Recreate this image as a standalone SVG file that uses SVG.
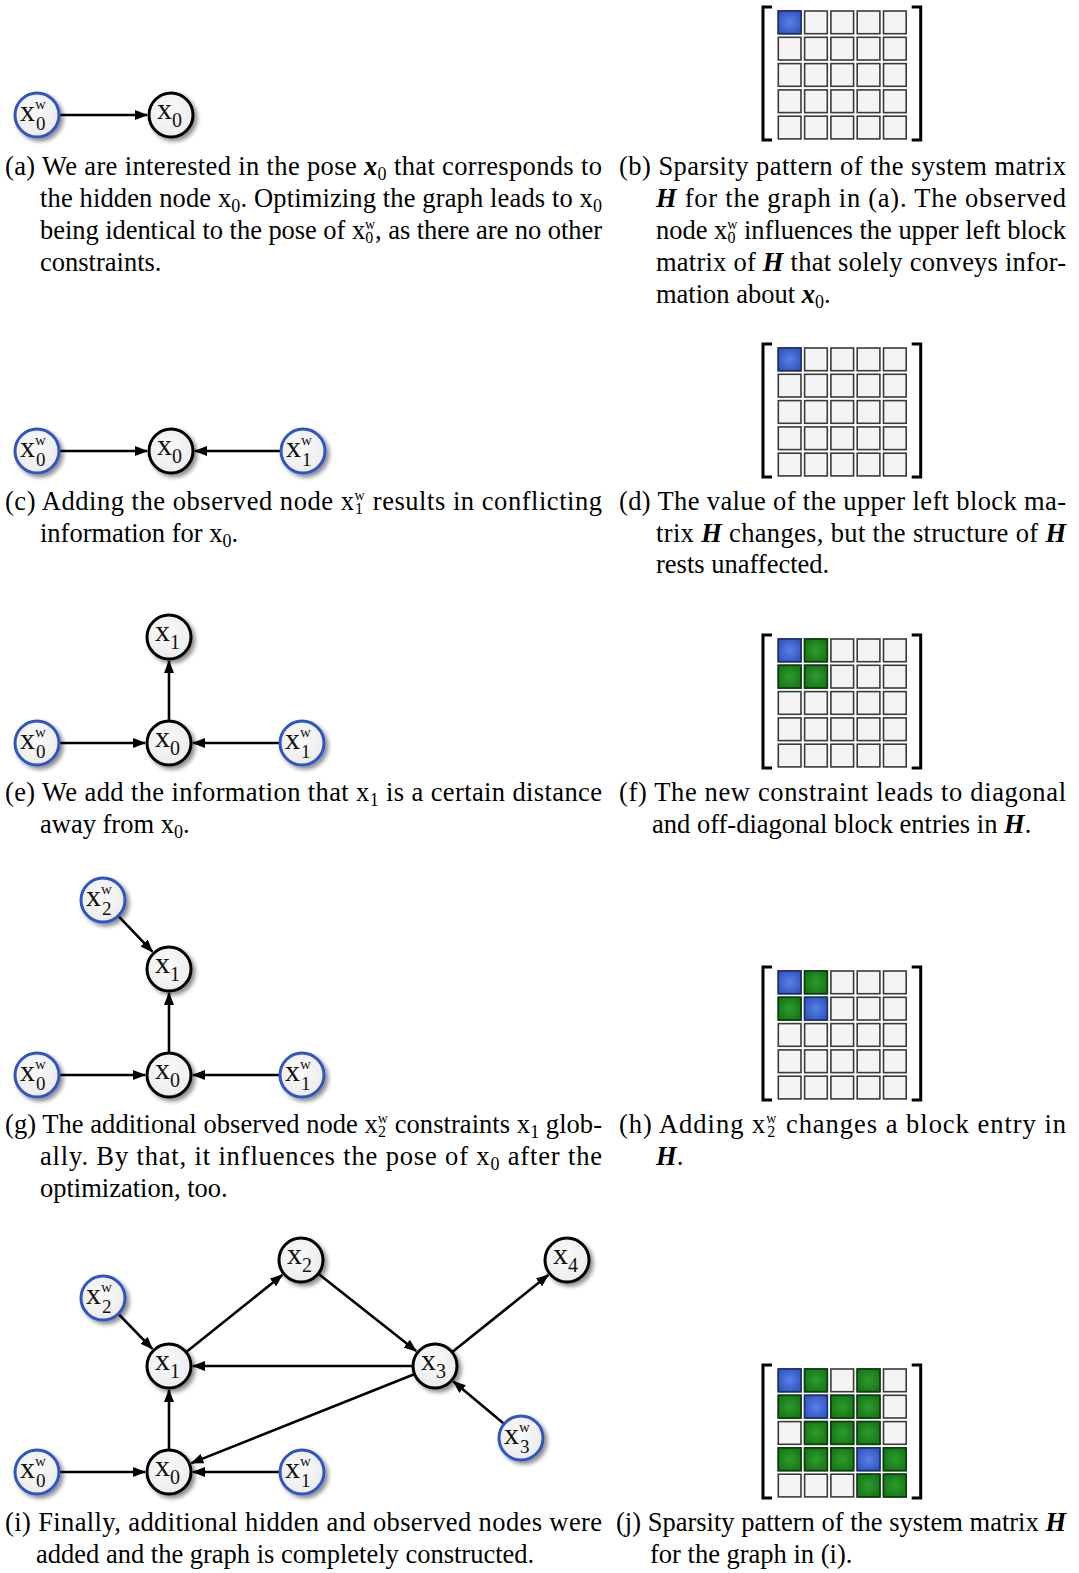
<svg xmlns="http://www.w3.org/2000/svg" xmlns:xlink="http://www.w3.org/1999/xlink" width="1079" height="1573" viewBox="0 0 1079 1573">
<style>
.cap{font-family:"Liberation Serif","Times New Roman",serif;font-size:26.5px;fill:#000}
.mb{font-weight:bold;font-style:italic}
.lbl{font-family:"Liberation Serif","Times New Roman",serif;fill:#111;font-size:30px}
.hid{fill:url(#nodeFill);stroke:#000;stroke-width:3}
.obs{fill:url(#nodeFill);stroke:#2d55c5;stroke-width:3}
.edge{stroke:#000;stroke-width:2.6;fill:none;marker-end:url(#arr)}
.cw{fill:#f4f4f4;stroke:#3a3a3a;stroke-width:1.6}
.cb{fill:url(#blueG);stroke:#1e2f70;stroke-width:1.6}
.cg{fill:url(#greenG);stroke:#0c3d0c;stroke-width:1.6}
.br{fill:none;stroke:#000;stroke-width:3}
</style>
<defs>
<radialGradient id="nodeFill" cx="0.45" cy="0.4" r="0.6"><stop offset="0" stop-color="#fafafa"/><stop offset="1" stop-color="#ececec"/></radialGradient>
<radialGradient id="blueG" cx="0.5" cy="0.5" r="0.6"><stop offset="0" stop-color="#5a80e2"/><stop offset="1" stop-color="#2f55c2"/></radialGradient>
<radialGradient id="greenG" cx="0.5" cy="0.5" r="0.6"><stop offset="0" stop-color="#2f9a2f"/><stop offset="1" stop-color="#137813"/></radialGradient>
<filter id="sh" x="-30%" y="-30%" width="170%" height="170%">
<feGaussianBlur in="SourceAlpha" stdDeviation="2"/><feOffset dx="3" dy="3" result="b"/>
<feComponentTransfer><feFuncA type="linear" slope="0.45"/></feComponentTransfer>
<feMerge><feMergeNode/><feMergeNode in="SourceGraphic"/></feMerge>
</filter>
<marker id="arr" markerUnits="userSpaceOnUse" markerWidth="13" markerHeight="10" refX="12" refY="5" orient="auto"><path d="M0,0 L13,5 L0,10 Z" fill="#000"/></marker>
<g id="hx"><circle r="22" class="hid" filter="url(#sh)"/></g>
<g id="ox"><circle r="22" class="obs" filter="url(#sh)"/></g>
<g id="mat">
<path class="br" d="M-6.3,-4 H-15.3 V129 H-6.3 M133.4,-4 H142.4 V129 H133.4"/>
<rect class="cw" x="0" y="0" width="22.7" height="22.7"/><rect class="cw" x="26.3" y="0" width="22.7" height="22.7"/><rect class="cw" x="52.6" y="0" width="22.7" height="22.7"/><rect class="cw" x="78.9" y="0" width="22.7" height="22.7"/><rect class="cw" x="105.2" y="0" width="22.7" height="22.7"/>
<rect class="cw" x="0" y="26.3" width="22.7" height="22.7"/><rect class="cw" x="26.3" y="26.3" width="22.7" height="22.7"/><rect class="cw" x="52.6" y="26.3" width="22.7" height="22.7"/><rect class="cw" x="78.9" y="26.3" width="22.7" height="22.7"/><rect class="cw" x="105.2" y="26.3" width="22.7" height="22.7"/>
<rect class="cw" x="0" y="52.6" width="22.7" height="22.7"/><rect class="cw" x="26.3" y="52.6" width="22.7" height="22.7"/><rect class="cw" x="52.6" y="52.6" width="22.7" height="22.7"/><rect class="cw" x="78.9" y="52.6" width="22.7" height="22.7"/><rect class="cw" x="105.2" y="52.6" width="22.7" height="22.7"/>
<rect class="cw" x="0" y="78.9" width="22.7" height="22.7"/><rect class="cw" x="26.3" y="78.9" width="22.7" height="22.7"/><rect class="cw" x="52.6" y="78.9" width="22.7" height="22.7"/><rect class="cw" x="78.9" y="78.9" width="22.7" height="22.7"/><rect class="cw" x="105.2" y="78.9" width="22.7" height="22.7"/>
<rect class="cw" x="0" y="105.2" width="22.7" height="22.7"/><rect class="cw" x="26.3" y="105.2" width="22.7" height="22.7"/><rect class="cw" x="52.6" y="105.2" width="22.7" height="22.7"/><rect class="cw" x="78.9" y="105.2" width="22.7" height="22.7"/><rect class="cw" x="105.2" y="105.2" width="22.7" height="22.7"/>
</g>
</defs>
<rect width="1079" height="1573" fill="#fff"/>

<g id="connectors">
<line class="edge" x1="60" y1="115" x2="147" y2="115"/>
<line class="edge" x1="60" y1="451" x2="147" y2="451"/>
<line class="edge" x1="280" y1="451" x2="195" y2="451"/>
<line class="edge" x1="169" y1="720" x2="169" y2="661"/>
<line class="edge" x1="60" y1="743" x2="145" y2="743"/>
<line class="edge" x1="279" y1="743" x2="193" y2="743"/>
<line class="edge" x1="118.9" y1="916.6" x2="152.4" y2="951.7"/>
<line class="edge" x1="169" y1="1052" x2="169" y2="993"/>
<line class="edge" x1="60" y1="1075" x2="145" y2="1075"/>
<line class="edge" x1="279" y1="1075" x2="193" y2="1075"/>
<line class="edge" x1="186.9" y1="1351.6" x2="282.3" y2="1275"/>
<line class="edge" x1="319" y1="1274.3" x2="416.2" y2="1351.1"/>
<line class="edge" x1="452.9" y1="1351.6" x2="548.3" y2="1275"/>
<line class="edge" x1="412" y1="1366" x2="193" y2="1366"/>
<line class="edge" x1="413.6" y1="1374.5" x2="191.3" y2="1463.1"/>
<line class="edge" x1="169" y1="1449" x2="169" y2="1390"/>
<line class="edge" x1="119" y1="1314.5" x2="152.3" y2="1348.8"/>
<line class="edge" x1="503.4" y1="1423.2" x2="453.4" y2="1381.4"/>
<line class="edge" x1="60" y1="1472" x2="145" y2="1472"/>
<line class="edge" x1="279" y1="1472" x2="193" y2="1472"/>
</g>

<g id="a_x0w" transform="translate(37,115)"><use href="#ox"/><text class="lbl" x="-17" y="6">x<tspan font-size="15" dy="-12">w</tspan><tspan font-size="19" dx="-9.8" dy="21">0</tspan></text></g>
<g id="a_x0" transform="translate(171,115)"><use href="#hx"/><text class="lbl" x="-14" y="4">x<tspan font-size="20" dy="8">0</tspan></text></g>

<g id="c_x0w" transform="translate(37,451)"><use href="#ox"/><text class="lbl" x="-17" y="6">x<tspan font-size="15" dy="-12">w</tspan><tspan font-size="19" dx="-9.8" dy="21">0</tspan></text></g>
<g id="c_x0" transform="translate(171,451)"><use href="#hx"/><text class="lbl" x="-14" y="4">x<tspan font-size="20" dy="8">0</tspan></text></g>
<g id="c_x1w" transform="translate(303,451)"><use href="#ox"/><text class="lbl" x="-17" y="6">x<tspan font-size="15" dy="-12">w</tspan><tspan font-size="19" dx="-9.8" dy="21">1</tspan></text></g>

<g id="e_x1" transform="translate(169,637)"><use href="#hx"/><text class="lbl" x="-14" y="4">x<tspan font-size="20" dy="8">1</tspan></text></g>
<g id="e_x0w" transform="translate(37,743)"><use href="#ox"/><text class="lbl" x="-17" y="6">x<tspan font-size="15" dy="-12">w</tspan><tspan font-size="19" dx="-9.8" dy="21">0</tspan></text></g>
<g id="e_x0" transform="translate(169,743)"><use href="#hx"/><text class="lbl" x="-14" y="4">x<tspan font-size="20" dy="8">0</tspan></text></g>
<g id="e_x1w" transform="translate(302,743)"><use href="#ox"/><text class="lbl" x="-17" y="6">x<tspan font-size="15" dy="-12">w</tspan><tspan font-size="19" dx="-9.8" dy="21">1</tspan></text></g>

<g id="g_x2w" transform="translate(103,900)"><use href="#ox"/><text class="lbl" x="-17" y="6">x<tspan font-size="15" dy="-12">w</tspan><tspan font-size="19" dx="-9.8" dy="21">2</tspan></text></g>
<g id="g_x1" transform="translate(169,969)"><use href="#hx"/><text class="lbl" x="-14" y="4">x<tspan font-size="20" dy="8">1</tspan></text></g>
<g id="g_x0w" transform="translate(37,1075)"><use href="#ox"/><text class="lbl" x="-17" y="6">x<tspan font-size="15" dy="-12">w</tspan><tspan font-size="19" dx="-9.8" dy="21">0</tspan></text></g>
<g id="g_x0" transform="translate(169,1075)"><use href="#hx"/><text class="lbl" x="-14" y="4">x<tspan font-size="20" dy="8">0</tspan></text></g>
<g id="g_x1w" transform="translate(302,1075)"><use href="#ox"/><text class="lbl" x="-17" y="6">x<tspan font-size="15" dy="-12">w</tspan><tspan font-size="19" dx="-9.8" dy="21">1</tspan></text></g>

<g id="i_x2" transform="translate(301,1260)"><use href="#hx"/><text class="lbl" x="-14" y="4">x<tspan font-size="20" dy="8">2</tspan></text></g>
<g id="i_x4" transform="translate(567,1260)"><use href="#hx"/><text class="lbl" x="-14" y="4">x<tspan font-size="20" dy="8">4</tspan></text></g>
<g id="i_x2w" transform="translate(103,1298)"><use href="#ox"/><text class="lbl" x="-17" y="6">x<tspan font-size="15" dy="-12">w</tspan><tspan font-size="19" dx="-9.8" dy="21">2</tspan></text></g>
<g id="i_x1" transform="translate(169,1366)"><use href="#hx"/><text class="lbl" x="-14" y="4">x<tspan font-size="20" dy="8">1</tspan></text></g>
<g id="i_x3" transform="translate(435,1366)"><use href="#hx"/><text class="lbl" x="-14" y="4">x<tspan font-size="20" dy="8">3</tspan></text></g>
<g id="i_x3w" transform="translate(521,1438)"><use href="#ox"/><text class="lbl" x="-17" y="6">x<tspan font-size="15" dy="-12">w</tspan><tspan font-size="19" dx="-9.8" dy="21">3</tspan></text></g>
<g id="i_x0w" transform="translate(37,1472)"><use href="#ox"/><text class="lbl" x="-17" y="6">x<tspan font-size="15" dy="-12">w</tspan><tspan font-size="19" dx="-9.8" dy="21">0</tspan></text></g>
<g id="i_x0" transform="translate(169,1472)"><use href="#hx"/><text class="lbl" x="-14" y="4">x<tspan font-size="20" dy="8">0</tspan></text></g>
<g id="i_x1w" transform="translate(302,1472)"><use href="#ox"/><text class="lbl" x="-17" y="6">x<tspan font-size="15" dy="-12">w</tspan><tspan font-size="19" dx="-9.8" dy="21">1</tspan></text></g>

<g id="mat_b" transform="translate(778.3,11)"><use href="#mat"/><rect class="cb" x="0" y="0" width="22.7" height="22.7"/></g>
<g id="mat_d" transform="translate(778.3,348)"><use href="#mat"/><rect class="cb" x="0" y="0" width="22.7" height="22.7"/></g>
<g id="mat_f" transform="translate(778.3,639)"><use href="#mat"/><rect class="cb" x="0" y="0" width="22.7" height="22.7"/><rect class="cg" x="26.3" y="0" width="22.7" height="22.7"/><rect class="cg" x="0" y="26.3" width="22.7" height="22.7"/><rect class="cg" x="26.3" y="26.3" width="22.7" height="22.7"/></g>
<g id="mat_h" transform="translate(778.3,971)"><use href="#mat"/><rect class="cb" x="0" y="0" width="22.7" height="22.7"/><rect class="cg" x="26.3" y="0" width="22.7" height="22.7"/><rect class="cg" x="0" y="26.3" width="22.7" height="22.7"/><rect class="cb" x="26.3" y="26.3" width="22.7" height="22.7"/></g>
<g id="mat_j" transform="translate(778.3,1369)"><use href="#mat"/>
<rect class="cb" x="0" y="0" width="22.7" height="22.7"/><rect class="cg" x="26.3" y="0" width="22.7" height="22.7"/><rect class="cg" x="78.9" y="0" width="22.7" height="22.7"/>
<rect class="cg" x="0" y="26.3" width="22.7" height="22.7"/><rect class="cb" x="26.3" y="26.3" width="22.7" height="22.7"/><rect class="cg" x="52.6" y="26.3" width="22.7" height="22.7"/><rect class="cg" x="78.9" y="26.3" width="22.7" height="22.7"/>
<rect class="cg" x="26.3" y="52.6" width="22.7" height="22.7"/><rect class="cg" x="52.6" y="52.6" width="22.7" height="22.7"/><rect class="cg" x="78.9" y="52.6" width="22.7" height="22.7"/>
<rect class="cg" x="0" y="78.9" width="22.7" height="22.7"/><rect class="cg" x="26.3" y="78.9" width="22.7" height="22.7"/><rect class="cg" x="52.6" y="78.9" width="22.7" height="22.7"/><rect class="cb" x="78.9" y="78.9" width="22.7" height="22.7"/><rect class="cg" x="105.2" y="78.9" width="22.7" height="22.7"/>
<rect class="cg" x="78.9" y="105.2" width="22.7" height="22.7"/><rect class="cg" x="105.2" y="105.2" width="22.7" height="22.7"/>
</g>

<g id="captions" class="cap">
<text x="5" y="175" textLength="597" lengthAdjust="spacing">(a) We are interested in the pose <tspan class="mb">x</tspan><tspan font-size="18" dy="5">0</tspan><tspan dy="-5"> that corresponds to</tspan></text>
<text x="40" y="207" textLength="562" lengthAdjust="spacing">the hidden node x<tspan font-size="18" dy="5">0</tspan><tspan dy="-5">. Optimizing the graph leads to x</tspan><tspan font-size="18" dy="5">0</tspan></text>
<text x="40" y="239" textLength="562" lengthAdjust="spacing">being identical to the pose of x<tspan font-size="14" dy="-10">w</tspan><tspan font-size="16" dx="-10" dy="14">0</tspan><tspan dx="2" dy="-4">, as there are no other</tspan></text>
<text x="40" y="271">constraints.</text>

<text x="619" y="175" textLength="447" lengthAdjust="spacing">(b) Sparsity pattern of the system matrix</text>
<text x="656" y="207" textLength="410" lengthAdjust="spacing"><tspan class="mb">H</tspan> for the graph in (a). The observed</text>
<text x="656" y="239" textLength="410" lengthAdjust="spacing">node x<tspan font-size="14" dy="-10">w</tspan><tspan font-size="16" dx="-10" dy="14">0</tspan><tspan dx="2" dy="-4"> influences the upper left block</tspan></text>
<text x="656" y="271" textLength="410" lengthAdjust="spacing">matrix of <tspan class="mb">H</tspan> that solely conveys infor-</text>
<text x="656" y="303">mation about <tspan class="mb">x</tspan><tspan font-size="18" dy="5">0</tspan><tspan dy="-5">.</tspan></text>

<text x="5" y="510" textLength="597" lengthAdjust="spacing">(c) Adding the observed node x<tspan font-size="14" dy="-10">w</tspan><tspan font-size="16" dx="-10" dy="14">1</tspan><tspan dx="2" dy="-4"> results in conflicting</tspan></text>
<text x="40" y="542">information for x<tspan font-size="18" dy="5">0</tspan><tspan dy="-5">.</tspan></text>

<text x="619" y="510" textLength="447" lengthAdjust="spacing">(d) The value of the upper left block ma-</text>
<text x="656" y="542" textLength="410" lengthAdjust="spacing">trix <tspan class="mb">H</tspan> changes, but the structure of <tspan class="mb">H</tspan></text>
<text x="656" y="573">rests unaffected.</text>

<text x="5" y="801" textLength="597" lengthAdjust="spacing">(e) We add the information that x<tspan font-size="18" dy="5">1</tspan><tspan dy="-5"> is a certain distance</tspan></text>
<text x="40" y="833">away from x<tspan font-size="18" dy="5">0</tspan><tspan dy="-5">.</tspan></text>

<text x="619" y="801" textLength="447" lengthAdjust="spacing">(f) The new constraint leads to diagonal</text>
<text x="652" y="833">and off-diagonal block entries in <tspan class="mb">H</tspan>.</text>

<text x="5" y="1133" textLength="597" lengthAdjust="spacing">(g) The additional observed node x<tspan font-size="14" dy="-10">w</tspan><tspan font-size="16" dx="-10" dy="14">2</tspan><tspan dx="2" dy="-4"> constraints x</tspan><tspan font-size="18" dy="5">1</tspan><tspan dy="-5"> glob-</tspan></text>
<text x="40" y="1165" textLength="562" lengthAdjust="spacing">ally. By that, it influences the pose of x<tspan font-size="18" dy="5">0</tspan><tspan dy="-5"> after the</tspan></text>
<text x="40" y="1197">optimization, too.</text>

<text x="619" y="1133" textLength="447" lengthAdjust="spacing">(h) Adding x<tspan font-size="14" dy="-10">w</tspan><tspan font-size="16" dx="-10" dy="14">2</tspan><tspan dx="2" dy="-4"> changes a block entry in</tspan></text>
<text x="656" y="1165"><tspan class="mb">H</tspan>.</text>

<text x="5" y="1531" textLength="597" lengthAdjust="spacing">(i) Finally, additional hidden and observed nodes were</text>
<text x="36" y="1563">added and the graph is completely constructed.</text>

<text x="616" y="1531" textLength="450" lengthAdjust="spacing">(j) Sparsity pattern of the system matrix <tspan class="mb">H</tspan></text>
<text x="650" y="1563">for the graph in (i).</text>
</g>
</svg>
